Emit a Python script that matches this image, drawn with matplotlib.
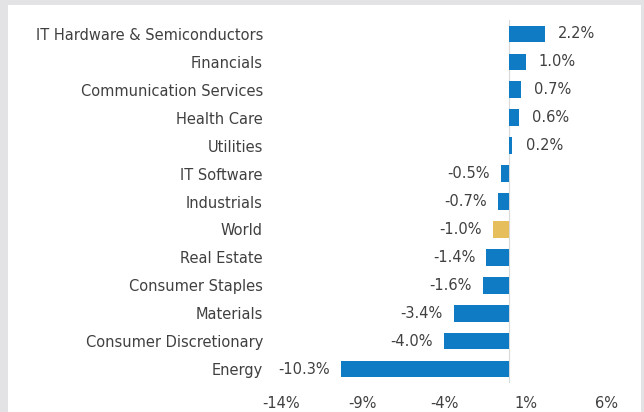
import matplotlib.pyplot as plt
from matplotlib.patches import Rectangle

categories = ['IT Hardware & Semiconductors', 'Financials', 'Communication Services',
              'Health Care', 'Utilities', 'IT Software', 'Industrials', 'World',
              'Real Estate', 'Consumer Staples', 'Materials', 'Consumer Discretionary',
              'Energy']
values = [2.2, 1.0, 0.7, 0.6, 0.2, -0.5, -0.7, -1.0, -1.4, -1.6, -3.4, -4.0, -10.3]
xticks = [-14, -9, -4, 1, 6]

blue = '#0F7BC4'
gold = '#E6BE5C'
text_col = '#404040'

plt.rcParams['font.family'] = ['DejaVu Sans']

fig = plt.figure(figsize=(6.44, 4.12), dpi=100, facecolor='#E3E3E5')
# white card on the gray background
fig.patches.append(Rectangle((8 / 644, 0), (641 - 8) / 644, 1 - 5 / 412,
                             transform=fig.transFigure, facecolor='white',
                             edgecolor='none', zorder=-10))

ax = fig.add_axes([281 / 644, 1 - 383 / 412, (607 - 281) / 644, (383 - 20) / 412])
ax.set_facecolor('none')
ax.set_zorder(5)

ypos = list(range(len(categories)))
colors = [gold if c == 'World' else blue for c in categories]
ax.barh(ypos, values, height=0.6, color=colors, zorder=2)

ax.axvline(0, color='#D9D9D9', lw=0.8, zorder=1)

for y, v in zip(ypos, values):
    lab = '%.1f%%' % v
    if v >= 0:
        ax.annotate(lab, (v, y), xytext=(9.5, 0), textcoords='offset points',
                    ha='left', va='center', fontsize=10.5, color=text_col)
    else:
        ax.annotate(lab, (v, y), xytext=(-8, 0), textcoords='offset points',
                    ha='right', va='center', fontsize=10.5, color=text_col)

ax.set_xlim(-14, 6)
ax.set_ylim(len(categories) - 0.5, -0.5)
ax.set_xticks(xticks)
ax.set_xticklabels(['%d%%' % t for t in xticks])
ax.set_yticks(ypos)
ax.set_yticklabels(categories)
ax.tick_params(axis='both', length=0, labelsize=10.5, colors=text_col)
ax.tick_params(axis='y', pad=13)
ax.tick_params(axis='x', pad=9)
for s in ax.spines.values():
    s.set_visible(False)

fig.savefig('out.png', dpi=100, facecolor=fig.get_facecolor())
